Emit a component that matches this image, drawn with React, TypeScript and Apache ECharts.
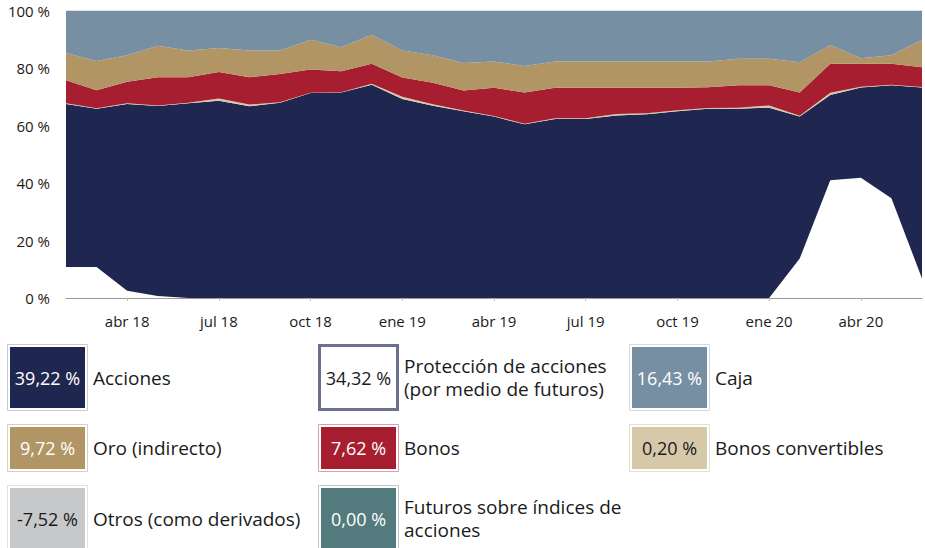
import React, { useEffect, useRef } from "react";
import * as echarts from "echarts";

// Month positions (each data point is a month-end, shown at the start of the next month)
const months = [
  "feb 18", "mar 18", "abr 18", "may 18", "jun 18", "jul 18", "ago 18", "sep 18", "oct 18", "nov 18", "dic 18",
  "ene 19", "feb 19", "mar 19", "abr 19", "may 19", "jun 19", "jul 19", "ago 19", "sep 19", "oct 19", "nov 19", "dic 19",
  "ene 20", "feb 20", "mar 20", "abr 20", "may 20", "jun 20",
];

// Stacked shares (%)
const proteccion = [10.8, 10.8, 2.5, 0.7, 0, 0, 0, 0, 0, 0, 0, 0, 0, 0, 0, 0, 0, 0, 0, 0, 0, 0, 0, 0, 13.7, 41.0, 41.8, 34.7, 6.8];
const acciones = [56.7, 55.0, 65.0, 66.1, 67.7, 68.6, 66.7, 67.9, 71.3, 71.5, 74.2, 69.2, 66.9, 65.0, 63.1, 60.4, 62.3, 62.3, 63.5, 63.9, 65.0, 65.8, 65.8, 66.2, 49.4, 29.6, 31.4, 39.3, 66.4];
const convertibles = [0.2, 0.2, 0.2, 0.2, 0.2, 0.8, 0.6, 0.2, 0.1, 0.1, 0.3, 0.8, 0.5, 0.2, 0.2, 0.2, 0.2, 0.2, 0.5, 0.4, 0.3, 0.3, 0.4, 0.8, 0.3, 0.8, 0.3, 0.2, 0.2];
const bonos = [8.0, 6.3, 7.5, 9.8, 8.9, 9.2, 9.5, 9.8, 8.1, 7.3, 7.0, 6.7, 7.5, 7.0, 9.8, 10.9, 10.6, 10.6, 9.1, 8.8, 7.8, 7.2, 7.8, 7.0, 8.1, 10.1, 8.0, 7.3, 6.9];
const oro = [9.5, 10.1, 9.2, 10.9, 9.3, 8.4, 9.3, 8.2, 10.3, 8.3, 10.1, 9.4, 9.5, 9.5, 9.2, 9.2, 9.2, 9.2, 9.2, 9.2, 9.2, 9.0, 9.2, 9.2, 10.5, 6.5, 1.9, 2.9, 9.5];
const caja = [14.8, 17.6, 15.6, 12.3, 13.9, 13.0, 13.9, 13.9, 10.2, 12.8, 8.4, 13.9, 15.6, 18.3, 17.7, 19.3, 17.7, 17.7, 17.7, 17.7, 17.7, 17.7, 16.8, 16.8, 18.0, 12.0, 16.6, 15.6, 10.2];

const yTicks = [0, 20, 40, 60, 80, 100];

// Legend
const legendLabels = [
  "Acciones", "Protección de acciones\n(por medio de futuros)", "Caja",
  "Oro (indirecto)", "Bonos", "Bonos convertibles",
  "Otros (como derivados)", "Futuros sobre índices de\nacciones",
];
const legendValues = ["39,22 %", "34,32 %", "16,43 %", "9,72 %", "7,62 %", "0,20 %", "-7,52 %", "0,00 %"];

const C = {
  navy: "#1f2650",
  red: "#a61e2f",
  gold: "#b19565",
  caja: "#778fa3",
  beige: "#d6c9a9",
  otros: "#c7c8ca",
  teal: "#537a7d",
  protBorder: "#6c6f8e",
};

const legendFills = [C.navy, "#ffffff", C.caja, C.gold, C.red, C.beige, C.otros, C.teal];
const legendFrames = ["#c9cad6", C.protBorder, "#d3dbe2", "#dccfb8", "#d9a3aa", "#e8e0cf", "#e2e2e3", "#b9cacb"];
const legendValueColors = ["#ffffff", "#1a1a1a", "#ffffff", "#ffffff", "#ffffff", "#1a1a1a", "#1a1a1a", "#ffffff"];

const FONT = '"Open Sans", "Noto Sans", sans-serif';

export default function App() {
  const ref = useRef<HTMLDivElement>(null);

  useEffect(() => {
    document.body.style.margin = "0";
    if (!ref.current) return;
    const chart = echarts.init(ref.current, undefined, { renderer: "svg" });

    const colX = [10, 321, 632];
    const textX = [93, 404, 715];
    const rowY = [347, 427, 488];
    const rowH = [61, 42, 61];
    const boxW = 75;

    const graphics: any[] = [];
    legendLabels.forEach((label, i) => {
      const col = i % 3;
      const row = Math.floor(i / 3);
      const x = colX[col];
      const y = rowY[row];
      const h = rowH[row];
      if (i === 1) {
        graphics.push({
          type: "rect",
          shape: { x: x - 1.5, y: y - 1.5, width: boxW + 3, height: h + 3 },
          style: { fill: "#ffffff", stroke: legendFrames[i], lineWidth: 3 },
          silent: true,
        });
      } else {
        graphics.push({
          type: "rect",
          shape: { x: x - 2.5, y: y - 2.5, width: boxW + 5, height: h + 5 },
          style: { fill: "#ffffff", stroke: legendFrames[i], lineWidth: 1 },
          silent: true,
        });
        graphics.push({
          type: "rect",
          shape: { x, y, width: boxW, height: h },
          style: { fill: legendFills[i] },
          silent: true,
        });
      }
      graphics.push({
        type: "text",
        x: x + boxW / 2,
        y: y + h / 2,
        style: {
          text: legendValues[i],
          fill: legendValueColors[i],
          font: `18px ${FONT}`,
          align: "center",
          verticalAlign: "middle",
        },
        silent: true,
      });
      graphics.push({
        type: "text",
        x: textX[col],
        y: y + h / 2,
        style: {
          text: label,
          fill: "#1a1a1a",
          font: `19px ${FONT}`,
          lineHeight: 23,
          align: "left",
          verticalAlign: "middle",
        },
        silent: true,
      });
    });

    const mk = (name: string, data: number[], color: string) => ({
      name,
      type: "line",
      stack: "total",
      data,
      symbol: "none",
      lineStyle: { width: 0 },
      areaStyle: { color, opacity: 1 },
      itemStyle: { color },
      z: 2,
    });

    chart.setOption({
      animation: false,
      grid: { left: 66, right: 3, top: 8, bottom: 250, containLabel: false },
      xAxis: {
        type: "category",
        data: months,
        boundaryGap: false,
        axisLine: { show: true, lineStyle: { color: "#9a9a9a", width: 1 } },
        axisTick: {
          show: true,
          interval: (idx: number) => idx % 3 === 2,
          length: 3,
          lineStyle: { color: "#bdbdbd" },
        },
        axisLabel: {
          interval: (idx: number) => idx % 3 === 2,
          color: "#1a1a1a",
          fontSize: 15,
          fontFamily: FONT,
          margin: 15,
        },
        splitLine: { show: false },
        z: 5,
      },
      yAxis: {
        type: "value",
        min: yTicks[0],
        max: yTicks[yTicks.length - 1],
        interval: 20,
        axisLine: { show: false },
        axisTick: { show: false },
        splitLine: { show: false },
        axisLabel: {
          formatter: "{value} %",
          color: "#1a1a1a",
          fontSize: 15,
          fontFamily: FONT,
          margin: 16,
          lineHeight: 16,
          padding: [5, 0, 0, 0],
        },
      },
      series: [
        mk("Protección de acciones (por medio de futuros)", proteccion, "#ffffff"),
        mk("Acciones", acciones, C.navy),
        mk("Bonos convertibles", convertibles, C.beige),
        mk("Bonos", bonos, C.red),
        mk("Oro (indirecto)", oro, C.gold),
        mk("Caja", caja, C.caja),
      ],
      graphic: graphics,
    });

    return () => chart.dispose();
  }, []);

  return <div ref={ref} style={{ width: 925, height: 548 }} />;
}
